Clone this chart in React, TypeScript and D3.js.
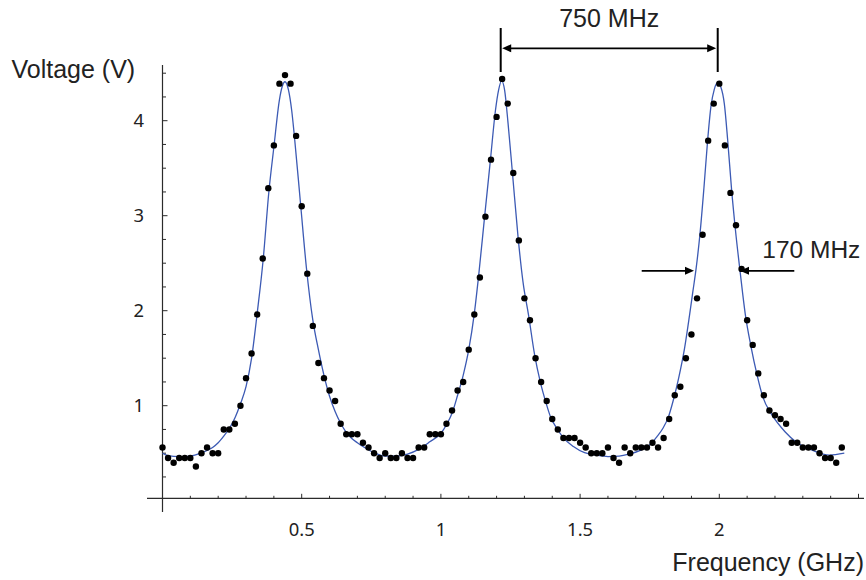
import React from "react";
import * as d3 from "d3";

// ---- Data ----
const freqStart = 0; // GHz
const freqStep = 0.02; // GHz, sampling grid of the measurement
const voltage = [
  0.56, 0.45, 0.40, 0.45, 0.45, 0.45, 0.36, 0.50, 0.56, 0.50,
  0.50, 0.75, 0.75, 0.81, 1.00, 1.29, 1.55, 1.96, 2.55, 3.29,
  3.74, 4.39, 4.48, 4.39, 3.84, 3.10, 2.39, 1.84, 1.45, 1.29,
  1.16, 1.05, 0.81, 0.70, 0.70, 0.70, 0.61, 0.56, 0.50, 0.45,
  0.50, 0.45, 0.45, 0.50, 0.45, 0.45, 0.56, 0.56, 0.70, 0.70,
  0.70, 0.81, 0.95, 1.16, 1.25, 1.59, 1.96, 2.35, 2.99, 3.59,
  4.04, 4.44, 4.18, 3.45, 2.74, 2.13, 1.90, 1.50, 1.25, 1.05,
  0.86, 0.75, 0.66, 0.66, 0.66, 0.61, 0.56, 0.50, 0.50, 0.50,
  0.56, 0.45, 0.40, 0.56, 0.50, 0.56, 0.56, 0.56, 0.61, 0.56,
  0.66, 0.86, 1.11, 1.20, 1.50, 1.75, 2.13, 2.80, 3.79, 4.18,
  4.39, 3.74, 3.24, 2.90, 2.44, 1.90, 1.64, 1.34, 1.11, 0.95,
  0.90, 0.86, 0.81, 0.61, 0.61, 0.56, 0.56, 0.56, 0.50, 0.45,
  0.45, 0.40, 0.56,
];

// fitted curve
const fitFreq = [
  0.000, 0.020, 0.060, 0.100, 0.140, 0.180, 0.200, 0.220, 0.240, 0.260,
  0.280, 0.300, 0.320, 0.340, 0.362, 0.382, 0.400, 0.420, 0.430, 0.440,
  0.452, 0.464, 0.473, 0.496, 0.517, 0.540, 0.560, 0.580, 0.600, 0.620,
  0.640, 0.660, 0.680, 0.700, 0.720, 0.760, 0.800, 0.840, 0.880, 0.920,
  0.960, 1.000, 1.020, 1.040, 1.060, 1.080, 1.100, 1.120, 1.136, 1.157,
  1.178, 1.196, 1.207, 1.218, 1.229, 1.241, 1.257, 1.277, 1.295, 1.315,
  1.337, 1.357, 1.378, 1.394, 1.417, 1.438, 1.476, 1.516, 1.558, 1.600,
  1.640, 1.675, 1.716, 1.755, 1.775, 1.797, 1.817, 1.835, 1.854, 1.875,
  1.893, 1.905, 1.917, 1.931, 1.945, 1.958, 1.970, 1.982, 1.994, 2.006,
  2.018, 2.030, 2.044, 2.058, 2.076, 2.093, 2.114, 2.136, 2.156, 2.190,
  2.236, 2.275, 2.335, 2.395, 2.449,
];
const fitVolt = [
  0.50, 0.475, 0.463, 0.47, 0.505, 0.56, 0.61, 0.68, 0.76, 0.87,
  1.02, 1.20, 1.50, 1.97, 2.55, 3.25, 3.72, 4.22, 4.36, 4.41,
  4.33, 4.11, 3.86, 3.12, 2.45, 1.90, 1.59, 1.32, 1.10, 0.94,
  0.815, 0.72, 0.655, 0.61, 0.57, 0.505, 0.47, 0.47, 0.49, 0.54,
  0.62, 0.71, 0.80, 0.92, 1.11, 1.32, 1.59, 1.97, 2.38, 2.99,
  3.59, 4.11, 4.32, 4.42, 4.32, 3.98, 3.45, 2.78, 2.30, 1.95,
  1.53, 1.25, 1.025, 0.88, 0.76, 0.67, 0.57, 0.505, 0.48, 0.465,
  0.47, 0.49, 0.53, 0.60, 0.67, 0.76, 0.88, 1.06, 1.29, 1.60,
  1.95, 2.20, 2.45, 2.82, 3.30, 3.79, 4.15, 4.33, 4.40, 4.35,
  4.18, 3.80, 3.28, 2.85, 2.38, 1.97, 1.62, 1.32, 1.095, 0.90,
  0.726, 0.62, 0.53, 0.48, 0.50,
];

const xTickMajor = [0.5, 1, 1.5, 2];
const xTickLabels = ["0.5", "1", "1.5", "2"];
const yTickMajor = [1, 2, 3, 4];
const yTickLabels = ["1", "2", "3", "4"];

// annotations
const spacingFreqs = [1.2148, 1.9943]; // peak markers, "750 MHz"
const spacingLabel = "750 MHz";
const widthLevel = 2.42; // V
const widthTips = [1.9091, 2.0743]; // "170 MHz"
const widthTails = [1.7213, 2.2694];
const widthLabel = "170 MHz";

const xTitle = "Frequency (GHz)";
const yTitle = "Voltage (V)";

export default function App() {
  const W = 866;
  const H = 580;
  const x = d3.scaleLinear().domain([0, 2.5]).range([162.5, 858.5]);
  const y = d3.scaleLinear().domain([0, 4]).range([500.7, 120.7]);
  const axisY = 498.3; // pixel row of the x axis
  const axisX = x(0);

  const freqs = voltage.map((_, i) => freqStart + i * freqStep);

  const line = d3
    .line<number>()
    .x((_, i) => x(fitFreq[i]))
    .y((v) => y(v))
    .curve(d3.curveMonotoneX);

  const minorX = d3.range(1, 26).map((k) => k / 10);
  const minorY = d3.range(1, 19).map((k) => k / 4);

  const axisColor = "#2b2b2b";
  const textColor = "#222";
  const titleFont = "'Liberation Sans', Arial, sans-serif";
  const tickFont = "'Noto Sans', 'Liberation Sans', sans-serif";

  const arrowHead = (tipX: number, tipY: number, dir: number, len = 9, hw = 4) =>
    `M${tipX},${tipY} L${tipX - dir * len},${tipY - hw} L${tipX - dir * len},${tipY + hw} Z`;

  const yLev = y(widthLevel);
  const bx0 = x(spacingFreqs[0]);
  const bx1 = x(spacingFreqs[1]);

  return (
    <svg
      width={W}
      height={H}
      style={{ position: "absolute", left: 0, top: 0, background: "#fff" }}
    >
      {/* axes */}
      <line x1={147} x2={864} y1={axisY} y2={axisY} stroke={axisColor} strokeWidth={1.2} />
      <line x1={axisX} x2={axisX} y1={65} y2={512} stroke={axisColor} strokeWidth={1.2} />

      {/* x ticks */}
      {minorX.map((t) => {
        const major = Math.abs(t * 2 - Math.round(t * 2)) < 1e-6;
        return (
          <line
            key={"xt" + t}
            x1={x(t)}
            x2={x(t)}
            y1={axisY}
            y2={axisY - (major ? 4.5 : 2.5)}
            stroke={axisColor}
            strokeWidth={1}
          />
        );
      })}
      {xTickMajor.map((t, i) => (
        <text
          key={"xl" + t}
          x={x(t)}
          y={536}
          textAnchor="middle"
          fontFamily={tickFont}
          fontSize={18.4}
          fill={textColor}
        >
          {xTickLabels[i]}
        </text>
      ))}

      {/* y ticks */}
      {minorY.map((t) => {
        const major = Math.abs(t - Math.round(t)) < 1e-6;
        return (
          <line
            key={"yt" + t}
            x1={axisX}
            x2={axisX + (major ? 5 : 3.5)}
            y1={y(t)}
            y2={y(t)}
            stroke={axisColor}
            strokeWidth={1}
          />
        );
      })}
      {yTickMajor.map((t, i) => (
        <text
          key={"yl" + t}
          x={144}
          y={y(t)}
          dy="0.36em"
          textAnchor="end"
          fontFamily={tickFont}
          fontSize={18.4}
          fill={textColor}
        >
          {yTickLabels[i]}
        </text>
      ))}

      {/* titles */}
      <text x={11.5} y={77.7} fontFamily={titleFont} fontSize={25} fill={textColor}>
        {yTitle}
      </text>
      <text x={864} y={571} textAnchor="end" fontFamily={titleFont} fontSize={25} fill={textColor}>
        {xTitle}
      </text>

      {/* fit curve */}
      <path d={line(fitVolt) || ""} fill="none" stroke="#3c5ab4" strokeWidth={1.3} />

      {/* data points */}
      {voltage.map((v, i) => (
        <circle key={"p" + i} cx={x(freqs[i])} cy={y(v)} r={3.2} fill="#000" />
      ))}

      {/* 750 MHz spacing annotation */}
      <line x1={bx0} x2={bx0} y1={28} y2={72} stroke="#000" strokeWidth={2} />
      <line x1={bx1} x2={bx1} y1={28} y2={72} stroke="#000" strokeWidth={2} />
      <line x1={bx0 + 6} x2={bx1 - 6} y1={48.3} y2={48.3} stroke="#000" strokeWidth={1.7} />
      <path d={arrowHead(bx0 + 1.5, 48.3, -1)} fill="#000" />
      <path d={arrowHead(bx1 - 1.5, 48.3, 1)} fill="#000" />
      <text
        x={(bx0 + bx1) / 2}
        y={26.7}
        textAnchor="middle"
        fontFamily={titleFont}
        fontSize={25}
        fill={textColor}
      >
        {spacingLabel}
      </text>

      {/* 170 MHz width annotation */}
      <line x1={x(widthTails[0])} x2={x(widthTips[0]) - 6} y1={yLev} y2={yLev} stroke="#000" strokeWidth={1.7} />
      <path d={arrowHead(x(widthTips[0]), yLev, 1)} fill="#000" />
      <line x1={x(widthTips[1]) + 6} x2={x(widthTails[1])} y1={yLev} y2={yLev} stroke="#000" strokeWidth={1.7} />
      <path d={arrowHead(x(widthTips[1]), yLev, -1)} fill="#000" />
      <text x={762.3} y={258.3} fontFamily={titleFont} fontSize={24.5} fill={textColor}>
        {widthLabel}
      </text>
    </svg>
  );
}
